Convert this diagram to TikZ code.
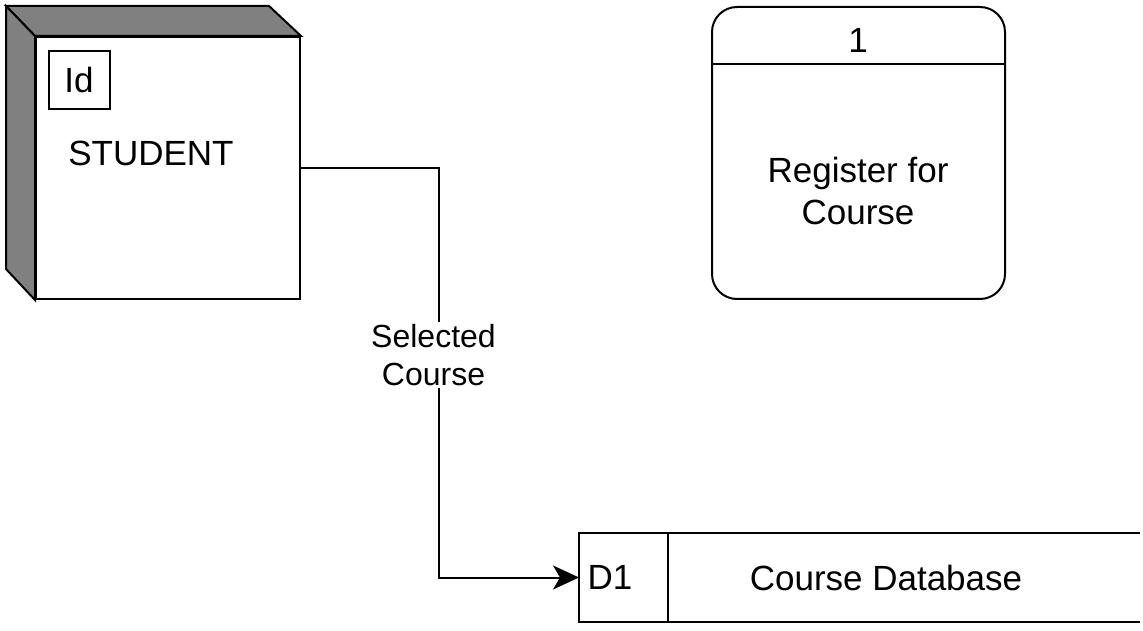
\documentclass[tikz,border=0pt]{standalone}
\usepackage{fontspec}
\setmainfont{Liberation Sans}
\usetikzlibrary{positioning,arrows.meta}

\tikzset{
  box/.style={draw, line width=2pt, inner sep=0pt},
  txt/.style={inner sep=0pt, align=center},
}

\begin{document}
\begin{tikzpicture}[x=1pt,y=1pt,line width=2pt,font=\fontsize{35}{42}\selectfont]
\useasboundingbox (0,0) rectangle (1143,630);

% external entity
\node[box, fill=white, minimum width=264, minimum height=262] (student) at (168,462) {};
\filldraw[fill=gray] (student.north west) -- ++(-29,30) -- ++(263,0) -- (student.north east) -- cycle;
\filldraw[fill=gray] (student.north west) -- ++(-29,30) -- ++(0,-263) -- (student.south west) -- cycle;
\node[box, minimum width=61, minimum height=58] (id) at (79,550) {Id};
\node[txt] (sname) at (151,477) {STUDENT};

% process
\node[box, rounded corners=25, minimum width=293, minimum height=292] (proc) at (858.5,477) {};
\draw ([yshift=-58pt]proc.north west) -- ([yshift=-58pt]proc.north east);
\node[txt] (pnum) at (858,590) {1};
\node[txt] (pname) at (858,439) {Register for\\Course};

% data store
\node[inner sep=0pt, minimum width=87, minimum height=87] (d1) at (623.5,52.5) {};
\node[inner sep=0pt, minimum width=470, minimum height=87, right=0pt of d1] (dname) {};
\draw (dname.north east) -- (d1.north west) -- (d1.south west) -- (dname.south east);
\draw (d1.north east) -- (d1.south east);
\node[txt] (dnum) at (610,52.5) {D1};
\node[txt] (dtext) at (886,52.5) {Course Database};

% data flow
\coordinate (b1) at (439,462);
\coordinate (b2) at (439,52.5);
\draw[-{Stealth[length=26,width=24,inset=7]}] (student.east) -- (b1)
  -- node[txt, fill=white, pos=0.4567, xshift=-5.5, inner ysep=2.5,
          font=\fontsize{32}{38}\selectfont] {Selected\\Course} (b2)
  -- (d1.west);

\end{tikzpicture}
\end{document}
